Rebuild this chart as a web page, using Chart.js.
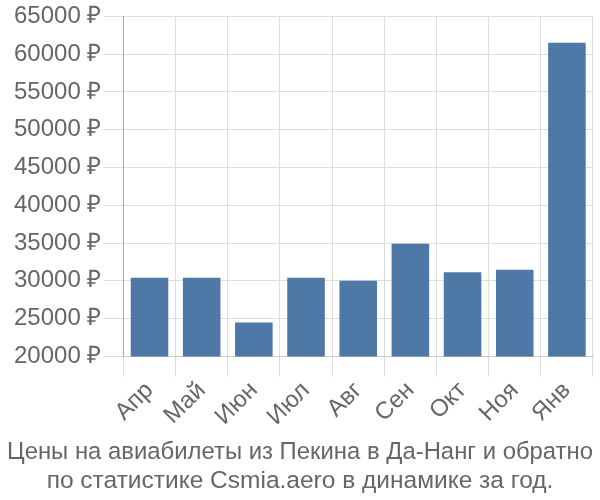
<!DOCTYPE html>
<html>
<head>
<meta charset="utf-8">
<script src="https://cdn.jsdelivr.net/npm/chart.js@4/dist/chart.umd.min.js"></script>
<style>
html,body{margin:0;padding:0;background:#fff;}
#wrap{width:600px;height:500px;}
</style>
</head>
<body>
<div id="wrap"><canvas id="c" width="600" height="500"></canvas></div>
<script>
const categories = ['Апр','Май','Июн','Июл','Авг','Сен','Окт','Ноя','Янв'];
const prices = [30400, 30400, 24500, 30400, 30000, 34900, 31150, 31450, 61500];
const titleLines = ['Цены на авиабилеты из Пекина в Да-Нанг и обратно','по статистике Csmia.aero в динамике за год.'];
const yMin = 20000, yMax = 65000, yStep = 5000;

Chart.defaults.font.family = "'Liberation Sans', Arial, sans-serif";
Chart.defaults.color = '#666';

new Chart(document.getElementById('c'), {
  type: 'bar',
  data: {
    labels: categories,
    datasets: [{
      data: prices,
      backgroundColor: '#4e79a7',
      borderWidth: 0
    }]
  },
  options: {
    responsive: false,
    animation: false,
    devicePixelRatio: 1,
    layout: { padding: { left: 7, right: 7, top: 3, bottom: 0 } },
    plugins: {
      legend: { display: false },
      tooltip: { enabled: false },
      title: {
        display: true,
        position: 'bottom',
        text: titleLines,
        color: '#666',
        font: { size: 24.5, weight: 'normal' },
        padding: { top: 6, bottom: 4 },
        lineHeight: 1.13
      }
    },
    scales: {
      x: {
        grid: { color: '#ddd', tickLength: 20, lineWidth: 1 },
        border: { color: '#ccc' },
        ticks: { font: { size: 24 }, color: '#666', maxRotation: 45, minRotation: 45, padding: 0 }
      },
      y: {
        min: yMin, max: yMax,
        grid: { color: '#ddd', tickLength: 20 },
        border: { color: '#aaa' },
        afterFit: s => { s.width += 5; },
        ticks: {
          stepSize: yStep,
          font: { size: 24 },
          color: '#666',
          padding: 2,
          callback: v => v + ' ₽'
        }
      }
    }
  }
});
</script>
</body>
</html>
